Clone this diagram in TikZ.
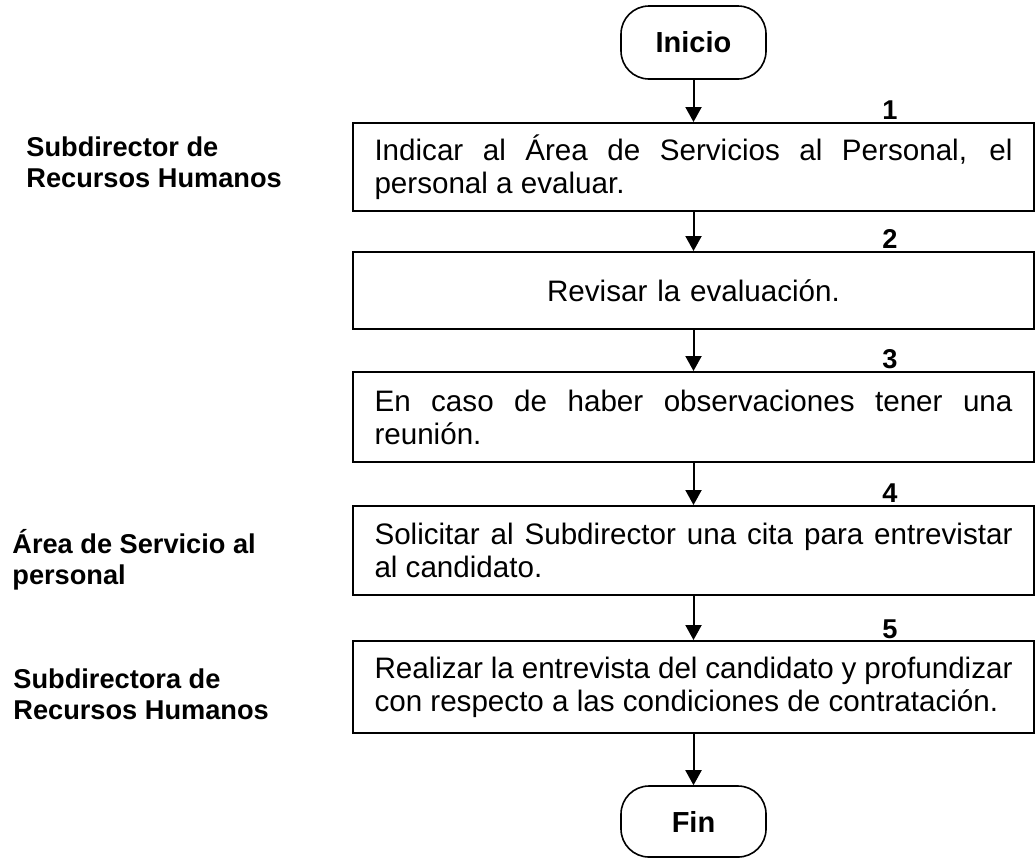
\documentclass[tikz,border=0pt]{standalone}
\usepackage{fontspec}
\setmainfont{Liberation Sans}
\usepackage{tikz}
\usetikzlibrary{arrows.meta}
\hyphenpenalty=10000
\tolerance=10000
\tikzset{>={Triangle[width=8pt, length=7.5pt]},
	paso/.style={draw, line width=1pt, rectangle, text width=319pt, inner xsep=10.75pt, inner ysep=0pt, align=justify, font=\fontsize{14.8}{16.5}\selectfont},
	terminal/.style={draw, line width=0.8pt, rounded corners=14pt, minimum width=72.5pt, font=\bfseries\fontsize{14.5}{17}\selectfont},
	actor/.style={anchor=west, align=left, inner sep=0pt, font=\bfseries\fontsize{13.6}{15.5}\selectfont},
	numero/.style={anchor=base, inner sep=0pt, font=\bfseries\fontsize{13.6}{15.5}\selectfont}}

\begin{document}
\begin{tikzpicture}[x=0.5pt, y=-0.5pt]
	\useasboundingbox (0,0) rectangle (1036,858);
	% flujo principal
	\node[terminal, minimum height=36.5pt] at (693.5,42.5) (Inicio) {Inicio};
	\node[paso, minimum height=44pt] at (693.5,167) (P1) {Indicar al Área de Servicios al Personal, el\linebreak personal a evaluar.};
	\node[paso, minimum height=38.5pt, align=center] at (693.5,290.5) (P2) {Revisar la evaluación.};
	\node[paso, minimum height=45pt] at (693.5,417) (P3) {En caso de haber observaciones tener una\linebreak reunión.};
	\node[paso, minimum height=44.5pt] at (693.5,550.5) (P4) {Solicitar al Subdirector una cita para entrevistar\linebreak al candidato.};
	\node[paso, minimum height=46pt] at (693.5,687) (P5) {Realizar la entrevista del candidato y profundizar\linebreak con respecto a las condiciones de contratación.};
	\node[terminal, minimum height=35.5pt] at (693.5,821.5) (Fin) {Fin};
	% numeros de paso
	\node[numero] at (890,119) (n1) {1};
	\node[numero] at (890,248) (n2) {2};
	\node[numero] at (890,368) (n3) {3};
	\node[numero] at (890,502) (n4) {4};
	\node[numero] at (890,638) (n5) {5};
	% responsables
	\node[actor] at (26,162.6) (SubRH) {Subdirector de\\Recursos Humanos};
	\node[actor] at (12,559.8) (AreaSP) {Área de Servicio al\\personal};
	\node[actor] at (13,694) (SubaRH) {Subdirectora de\\Recursos Humanos};
	\draw[->, line width=1pt]
		(Inicio) edge (P1)
		(P1) edge (P2)
		(P2) edge (P3)
		(P3) edge (P4)
		(P4) edge (P5)
		(P5) edge (Fin);
\end{tikzpicture}
\end{document}
